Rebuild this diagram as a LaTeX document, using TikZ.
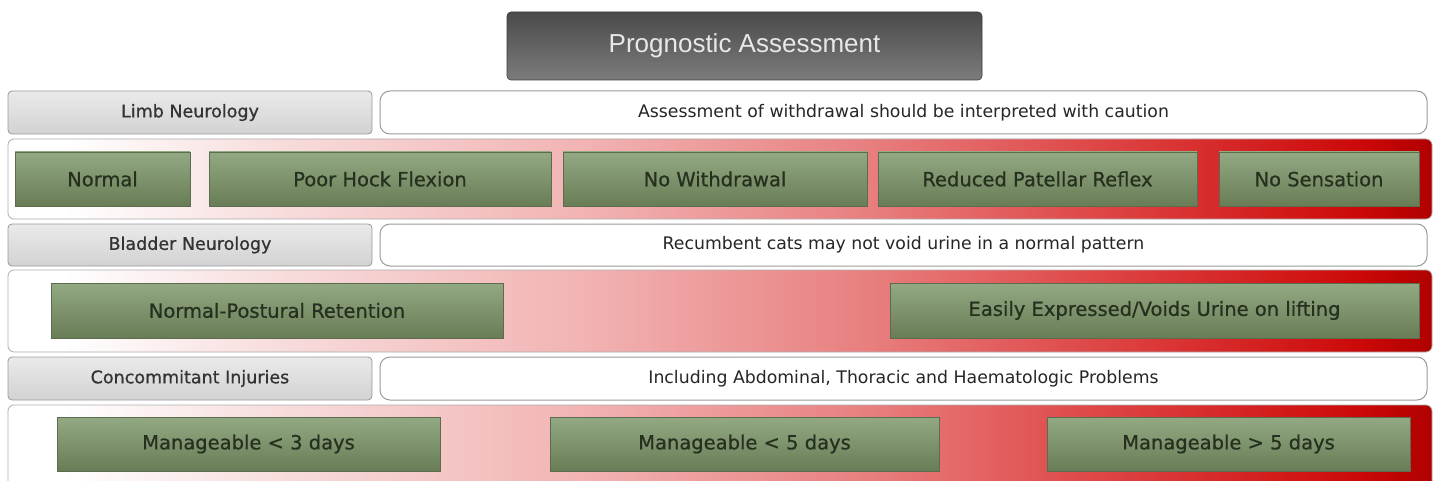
\documentclass[tikz,border=0pt]{standalone}
\usepackage{fontspec}
\newfontfamily\hvfont{Liberation Sans}
\newfontfamily\dvfont{DejaVu Sans}
\newfontfamily\dvbfont[FakeBold=0.7]{DejaVu Sans}
\definecolor{titletop}{HTML}{4A4A4A}
\definecolor{titlebot}{HTML}{7C7C7C}
\definecolor{titletext}{HTML}{E8E8E8}
\definecolor{greytop}{HTML}{EAEAEA}
\definecolor{greybot}{HTML}{D2D2D2}
\definecolor{greyline}{HTML}{9A9A9A}
\definecolor{headtext}{HTML}{333333}
\definecolor{greentop}{HTML}{93A983}
\definecolor{greenbot}{HTML}{687D56}
\definecolor{greenline}{HTML}{5C6C4E}
\definecolor{greentext}{HTML}{26301E}
\definecolor{bandA}{HTML}{F7DADA}
\definecolor{bandB}{HTML}{F2B4B4}
\definecolor{bandC}{HTML}{E88080}
\definecolor{bandD}{HTML}{DC3A3A}
\definecolor{bandE}{HTML}{CC0808}
\definecolor{bandF}{HTML}{B00000}
\pgfdeclarehorizontalshading{bandgrad}{100bp}{color(0bp)=(white); color(27bp)=(white); color(35bp)=(bandA); color(45bp)=(bandB); color(55bp)=(bandC); color(65bp)=(bandD); color(72.5bp)=(bandE); color(75bp)=(bandF); color(100bp)=(bandF)}
\tikzset{
  titlebox/.style={rounded corners=4pt, top color=titletop, bottom color=titlebot, draw=titletop!80!black, line width=0.6pt, text=titletext, font=\hvfont\fontsize{26}{30}\selectfont, inner sep=0pt},
  headbox/.style={rounded corners=4pt, top color=greytop, bottom color=greybot, draw=greyline, line width=0.8pt, text=headtext, font=\dvbfont\fontsize{17.5}{20}\selectfont, inner sep=0pt, minimum width=364, minimum height=43},
  notebox/.style={rounded corners=10pt, fill=white, draw=greyline, line width=1pt, text=black!85, font=\dvfont\fontsize{17.3}{20}\selectfont, inner sep=0pt, minimum width=1047, minimum height=43},
  bandbox/.style={rounded corners=6pt, shading=bandgrad, draw=greyline!80, line width=0.8pt, inner sep=0pt, minimum width=1424},
  greenbox/.style={top color=greentop, bottom color=greenbot, draw=greenline, line width=0.5pt, text=greentext, font=\dvbfont\fontsize{19.5}{22}\selectfont, inner sep=0pt}
}
\begin{document}
\begin{tikzpicture}[x=1pt,y=-1pt]
\clip (0,0) rectangle (1439,481);
\fill[white] (0,0) rectangle (1439,481);
% title
\node[titlebox, minimum width=475, minimum height=68] (title) at (744.5,46) {Prognostic Assessment};
% row 1
\node[headbox] (h1) at (190,112.5) {Limb Neurology};
\node[notebox] (c1) at (903.5,112.5) {Assessment of withdrawal should be interpreted with caution};
\node[bandbox, minimum height=80] (b1) at (720,179) {};
\node[greenbox, minimum width=175, minimum height=54] (g11) at (102.5,179) {Normal};
\node[greenbox, minimum width=342, minimum height=54] (g12) at (380,179) {Poor Hock Flexion};
\node[greenbox, minimum width=304, minimum height=54] (g13) at (715,179) {No Withdrawal};
\node[greenbox, minimum width=319, minimum height=54] (g14) at (1037.5,179) {Reduced Patellar Reflex};
\node[greenbox, minimum width=200, minimum height=54] (g15) at (1319,179) {No Sensation};
% row 2
\node[headbox, minimum height=42] (h2) at (190,245) {Bladder Neurology};
\node[notebox, minimum height=42] (c2) at (903.5,245) {Recumbent cats may not void urine in a normal pattern};
\node[bandbox, minimum height=82] (b2) at (720,311) {};
\node[greenbox, minimum width=452, minimum height=55] (g21) at (277,310.5) {Normal-Postural Retention};
\node[greenbox, minimum width=529, minimum height=55] (g22) at (1154.5,310.5) {Easily Expressed/Voids Urine on lifting};
% row 3
\node[headbox] (h3) at (190,378.5) {Concommitant Injuries};
\node[notebox] (c3) at (903.5,378.5) {Including Abdominal, Thoracic and Haematologic Problems};
\node[bandbox, minimum height=90] (b3) at (720,450) {};
\node[greenbox, minimum width=383, minimum height=54] (g31) at (248.5,444) {Manageable < 3 days};
\node[greenbox, minimum width=389, minimum height=54] (g32) at (744.5,444) {Manageable < 5 days};
\node[greenbox, minimum width=363, minimum height=54] (g33) at (1228.5,444) {Manageable > 5 days};
\end{tikzpicture}
\end{document}
